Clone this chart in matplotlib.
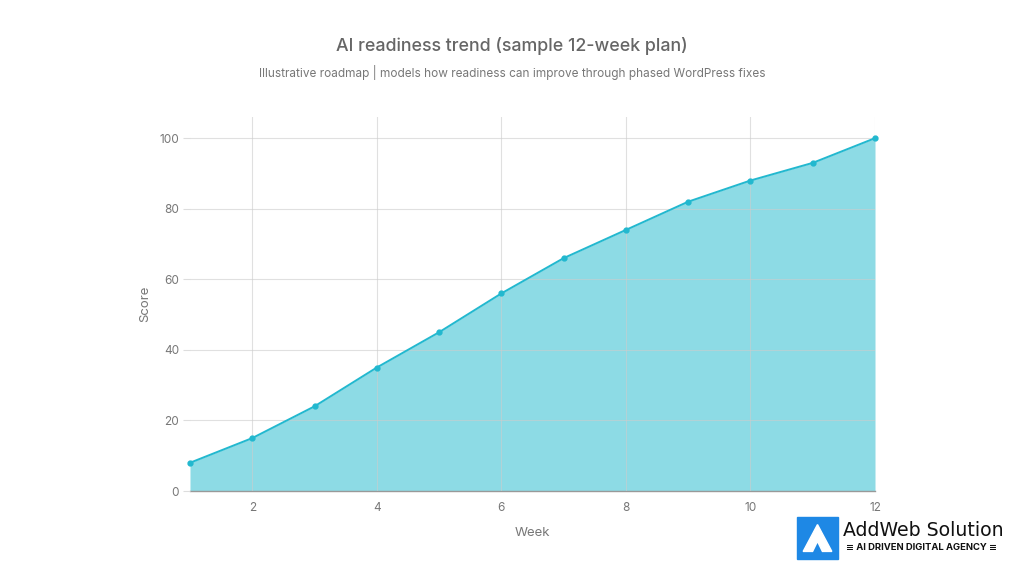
import matplotlib.pyplot as plt
import matplotlib.patches as mpatches
from matplotlib.patches import Polygon

weeks = [1, 2, 3, 4, 5, 6, 7, 8, 9, 10, 11, 12]
scores = [8, 15, 24, 35, 45, 56, 66, 74, 82, 88, 93, 100]
x_ticks = [2, 4, 6, 8, 10, 12]
y_ticks = [0, 20, 40, 60, 80, 100]

title = "AI readiness trend (sample 12-week plan)"
subtitle = "Illustrative roadmap | models how readiness can improve through phased WordPress fixes"

line_color = "#22b8cf"
fill_color = "#8ddbe5"
text_gray = "#666666"

plt.rcParams['font.family'] = ['Inter', 'DejaVu Sans']

fig = plt.figure(figsize=(10.24, 5.76), dpi=100)
ax = fig.add_axes([190 / 1024, 1 - 491 / 576, 685 / 1024, 374 / 576])

ax.fill_between(weeks, scores, 0, color=fill_color, linewidth=0, zorder=1)
ax.plot(weeks, scores, color=line_color, linewidth=1.4, marker="o", markersize=3.5, zorder=3, clip_on=False)

ax.set_xlim(1, 12)
ax.set_ylim(0, 106)
ax.set_xticks(x_ticks)
ax.set_yticks(y_ticks)
ax.grid(True, color="#cccccc", linewidth=0.8, alpha=0.6, zorder=2)
ax.set_axisbelow(False)
for s in ["top", "right", "left"]:
    ax.spines[s].set_visible(False)
ax.spines["bottom"].set_color("#999999")
ax.spines["bottom"].set_linewidth(1)
ax.tick_params(axis="y", length=5, color="#dddddd", labelcolor="#777777", labelsize=8.5, pad=3)
ax.tick_params(axis="x", length=0, labelcolor="#777777", labelsize=8.5, pad=8)
ax.set_xlabel("Week", color="#777777", fontsize=9.5, labelpad=9)
ax.set_ylabel("Score", color="#777777", fontsize=9.5, labelpad=6)

fig.text(0.5, 1 - 46 / 576, title, ha="center", va="center", fontsize=12.8, color=text_gray, fontweight="medium")
fig.text(0.5, 1 - 72 / 576, subtitle, ha="center", va="center", fontsize=8.5, color="#777777")

# logo
lx0, ly0, lw, lh = 797 / 1024, 1 - 559 / 576, 41 / 1024, 42 / 576
fig.patches.append(mpatches.Rectangle((lx0, ly0), lw, lh, transform=fig.transFigure, color="#1e88e5", zorder=5))
tri = Polygon([(lx0 + lw * 0.15, ly0 + lh * 0.18), (lx0 + lw * 0.5, ly0 + lh * 0.82),
               (lx0 + lw * 0.85, ly0 + lh * 0.18), (lx0 + lw * 0.62, ly0 + lh * 0.18),
               (lx0 + lw * 0.5, ly0 + lh * 0.42), (lx0 + lw * 0.38, ly0 + lh * 0.18)],
              closed=True, transform=fig.transFigure, color="white", zorder=6)
fig.patches.append(tri)
fig.text(843 / 1024, 1 - 530 / 576, "AddWeb Solution", ha="left", va="center", fontsize=13.6, color="#111111", family=["DejaVu Sans"])
fig.text(846 / 1024, 1 - 548 / 576, "\u2261 AI DRIVEN DIGITAL AGENCY \u2261", ha="left", va="center", fontsize=6.8, color="#111111", fontweight="bold")

fig.savefig("out.png", dpi=100, facecolor="white")
